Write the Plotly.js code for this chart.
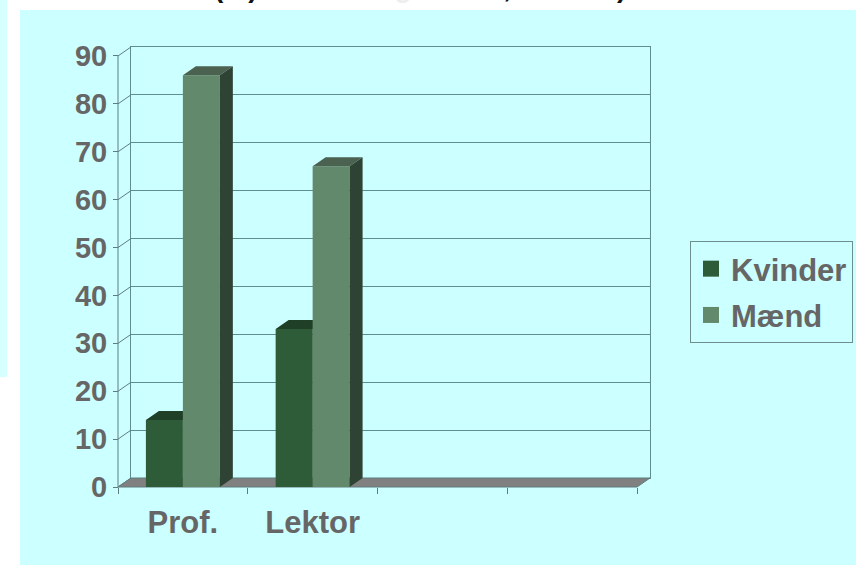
<!DOCTYPE html>
<html><head><meta charset="utf-8">
<script src="https://cdn.plot.ly/plotly-3.0.1.min.js"></script>
<style>html,body{margin:0;padding:0;background:#fff;}#chart{width:856px;height:565px;}</style>
</head><body><div id="chart"></div>
<script>
// ---- data ----
const categories = ['Prof.', 'Lektor', '', ''];
const kvinder = [14, 33, null, null];
const maend = [86, 67, null, null];
const seriesNames = ['Kvinder', 'Mænd'];
const yTicks = [0, 10, 20, 30, 40, 50, 60, 70, 80, 90];
const titleMain = ' Kvinder og mænd';
const titleSub = ' ansatte';

// ---- style / geometry ----
const W = 856, H = 565;
const FX0 = 118, SX = 129.75;   // front x: px at -0.5, px per category
const FY0 = 487, SY = 4.789;    // front y: px at 0, px per unit
const DX = 13 / SX, DY = 9 / SY; // depth offset in data units
const BARW = 0.285;
const colK = '#2E5C39', colKTop = '#1F4026', colKSide = '#213B27';
const colM = '#62896C', colMTop = '#4B6251', colMSide = '#2F4334';
const gridCol = '#5E8E8E', axCol = '#5F7D7E', txtCol = '#666666';
const FONT = 'Liberation Sans, Arial, sans-serif';
const fx = px => px / W, fy = px => (H - px) / H;
const xr = [-0.5 + (100 - FX0) / SX, -0.5 + (668 - FX0) / SX];
const yr = [(FY0 - 500) / SY, (FY0 - 30) / SY];
const nCat = categories.length;

function faces(vals, left, right) {
  const top = {x: [], y: []}, side = {x: [], y: []};
  vals.forEach((v, i) => {
    if (v == null) return;
    const l = i + left, r = i + right;
    top.x.push(l, r, r + DX, l + DX, l, null);
    top.y.push(v, v, v + DY, v + DY, v, null);
    side.x.push(r, r, r + DX, r + DX, r, null);
    side.y.push(0, v, v + DY, DY, 0, null);
  });
  return {top, side};
}
function poly(p, color, xa, ya) {
  return {type: 'scatter', mode: 'lines', x: p.x, y: p.y, fill: 'toself', fillcolor: color,
          line: {width: 0, color: color}, xaxis: xa, yaxis: ya, showlegend: false, hoverinfo: 'skip'};
}
const idx = categories.map((c, i) => i);
const fK = faces(kvinder, -BARW, 0), fM = faces(maend, 0, BARW);

// side wall lines
const wall = {x: [-0.5, -0.5, null], y: [0, yTicks[yTicks.length - 1], null]};
yTicks.forEach(t => { wall.x.push(-0.5, -0.5 + DX, null); wall.y.push(t, t + DY, null); });
const last = nCat - 0.5;

const traces = [
  {type: 'scatter', x: [], y: [], xaxis: 'x', yaxis: 'y', showlegend: false},
  // floor
  {type: 'scatter', mode: 'lines', x: [-0.5, last, last + DX, -0.5 + DX, -0.5], y: [0, 0, DY, DY, 0],
   fill: 'toself', fillcolor: '#808080', line: {color: axCol, width: 1}, xaxis: 'x2', yaxis: 'y2', showlegend: false, hoverinfo: 'skip'},
  {type: 'scatter', mode: 'lines', x: wall.x, y: wall.y, line: {color: axCol, width: 1},
   xaxis: 'x2', yaxis: 'y2', showlegend: false, hoverinfo: 'skip'},
  // Kvinder
  {type: 'bar', x: idx, y: kvinder, width: BARW, offset: -BARW, marker: {color: colK, line: {width: 0}},
   xaxis: 'x3', yaxis: 'y3', showlegend: false, name: seriesNames[0]},
  poly(fK.top, colKTop, 'x3', 'y3'),
  poly(fK.side, colKSide, 'x3', 'y3'),
  // Mænd
  {type: 'bar', x: idx, y: maend, width: BARW, offset: 0, marker: {color: colM, line: {width: 0}},
   xaxis: 'x4', yaxis: 'y4', showlegend: false, name: seriesNames[1]},
  poly(fM.top, colMTop, 'x4', 'y4'),
  poly(fM.side, colMSide, 'x4', 'y4'),
  // legend entries
  {type: 'scatter', mode: 'markers', x: [null], y: [null], name: seriesNames[0], legendgroup: 'k',
   marker: {symbol: 'square', size: 18, color: colK}, xaxis: 'x', yaxis: 'y'},
  {type: 'scatter', mode: 'markers', x: [null], y: [null], name: seriesNames[1], legendgroup: 'm',
   marker: {symbol: 'square', size: 18, color: colM}, xaxis: 'x', yaxis: 'y'}
];

const hidden = {showgrid: false, zeroline: false, showticklabels: false, ticks: '', showline: false, fixedrange: true};
const layout = {
  width: W, height: H, margin: {l: 0, r: 0, t: 0, b: 0},
  paper_bgcolor: '#ffffff', plot_bgcolor: 'rgba(0,0,0,0)',
  font: {family: FONT, color: txtCol},
  showlegend: true,
  legend: {x: fx(690), y: fy(241), xanchor: 'left', yanchor: 'top', bgcolor: '#CCFFFF',
           bordercolor: '#6F8F8F', borderwidth: 1, traceorder: 'grouped', tracegroupgap: 3,
           font: {family: FONT, size: 31, weight: 'bold', color: txtCol}},
  // back wall
  xaxis: Object.assign({}, hidden, {domain: [fx(131), fx(650)], range: [0, 1], showline: true, mirror: true,
          linecolor: gridCol, linewidth: 1, anchor: 'y'}),
  yaxis: Object.assign({}, hidden, {domain: [fy(478), fy(47)], range: [0, 90], showgrid: true, gridcolor: gridCol,
          gridwidth: 1, tickvals: yTicks, showline: true, mirror: true, linecolor: gridCol, anchor: 'x'}),
  // front system
  xaxis2: Object.assign({}, hidden, {domain: [fx(100), fx(668)], range: xr, anchor: 'free', position: fy(FY0),
          ticks: 'outside', ticklen: 6, tickcolor: axCol, tickwidth: 1,
          tickvals: categories.map((c, i) => i - 0.5).concat([last])}),
  yaxis2: Object.assign({}, hidden, {domain: [fy(500), fy(30)], range: yr, anchor: 'free', position: fx(FX0),
          ticks: 'outside', ticklen: 5, tickcolor: axCol, tickwidth: 1, tickvals: yTicks,
          showticklabels: true, tickfont: {family: FONT, size: 29, weight: 'bold', color: txtCol}}),
  xaxis3: Object.assign({}, hidden, {overlaying: 'x2', range: xr, anchor: 'free', position: fy(FY0),
          tickvals: idx, ticktext: categories, showticklabels: true, ticklabelstandoff: 14,
          tickfont: {family: FONT, size: 31, weight: 'bold', color: txtCol}}),
  yaxis3: Object.assign({}, hidden, {overlaying: 'y2', range: yr, anchor: 'x3'}),
  xaxis4: Object.assign({}, hidden, {overlaying: 'x2', range: xr, anchor: 'y4'}),
  yaxis4: Object.assign({}, hidden, {overlaying: 'y2', range: yr, anchor: 'x4'}),
  shapes: [
    {type: 'rect', xref: 'paper', yref: 'paper', x0: fx(20), x1: 1, y0: 0, y1: fy(10), fillcolor: '#CCFFFF', line: {width: 0}, layer: 'below'},
    {type: 'rect', xref: 'paper', yref: 'paper', x0: 0, x1: fx(7), y0: fy(377), y1: 1, fillcolor: '#D6FFFF', line: {width: 0}, layer: 'below'}
  ],
  annotations: [
    {xref: 'paper', yref: 'paper', x: fx(420), y: 1, xanchor: 'center', yanchor: 'bottom', yshift: -5, showarrow: false,
     text: '(%)<span style="color:#eeeeee">' + titleMain + '</span>,<span style="color:#eeeeee">' + titleSub + '</span>)',
     font: {family: FONT, size: 28, weight: 'bold', color: '#111111'}}
  ]
};
Plotly.newPlot('chart', traces, layout, {staticPlot: true});
</script></body></html>
